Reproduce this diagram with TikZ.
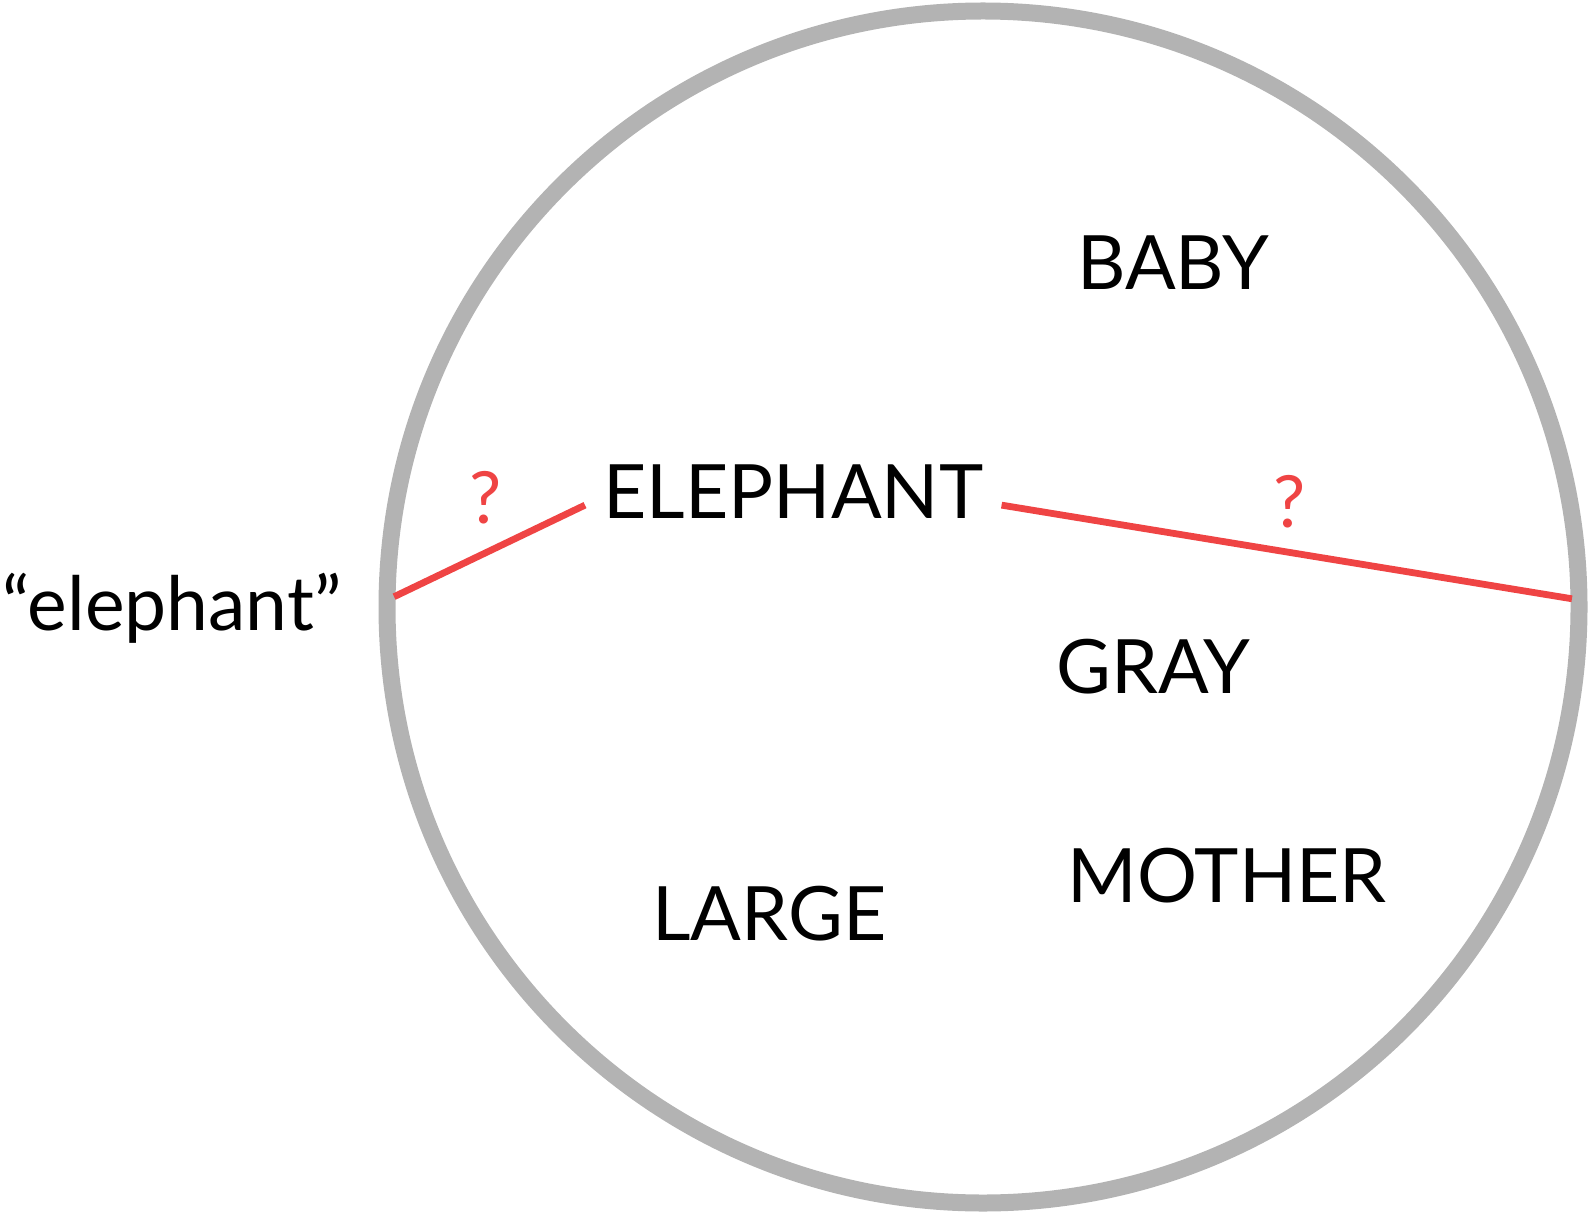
\documentclass[tikz,border=0pt]{standalone}
\usepackage{fontspec}
\setmainfont{Lato}
\usetikzlibrary{calc}
\definecolor{linkred}{HTML}{EF4444}
\definecolor{ringgray}{HTML}{B3B3B3}

\begin{document}
\begin{tikzpicture}[x=0.5pt, y=0.5pt,
    word/.style={font=\fontsize{37.5}{37.5}\selectfont, inner sep=0pt, anchor=base west},
    ask/.style={font=\fontsize{36}{36}\selectfont, text=linkred, inner sep=0pt, anchor=base},
    link/.style={draw=linkred, line width=3.4pt}, ring/.style={draw=ringgray, line width=8.5pt}]
    \useasboundingbox (0,0) rectangle (1593,1212);
    \coordinate (O) at (983,605);
    \draw[ring] (O) circle (596);
    \node[word] (elephant) at (603,694) {ELEPHANT};
    \node[word] (baby) at (1077,922) {BABY};
    \node[word] (gray) at (1056,519) {GRAY};
    \node[word] (mother) at (1067,310) {MOTHER};
    \node[word] (large) at (652,272) {LARGE};
    \node[word] (label) at (2,582) {“elephant”};
    \node[ask] (q1) at (486,689) {?};
    \node[ask] (q2) at (1290,685) {?};
    \coordinate (rimW) at ($(O)+(179:589)$);
    \coordinate (rimE) at ($(O)+(0.8:589)$);
    \coordinate (eleW) at ([shift={(-18,-14)}]elephant.west);
    \coordinate (eleE) at ([shift={(18,-14)}]elephant.east);
    \draw[link] (rimW) -- (eleW);
    \draw[link] (eleE) -- (rimE);
\end{tikzpicture}
\end{document}
